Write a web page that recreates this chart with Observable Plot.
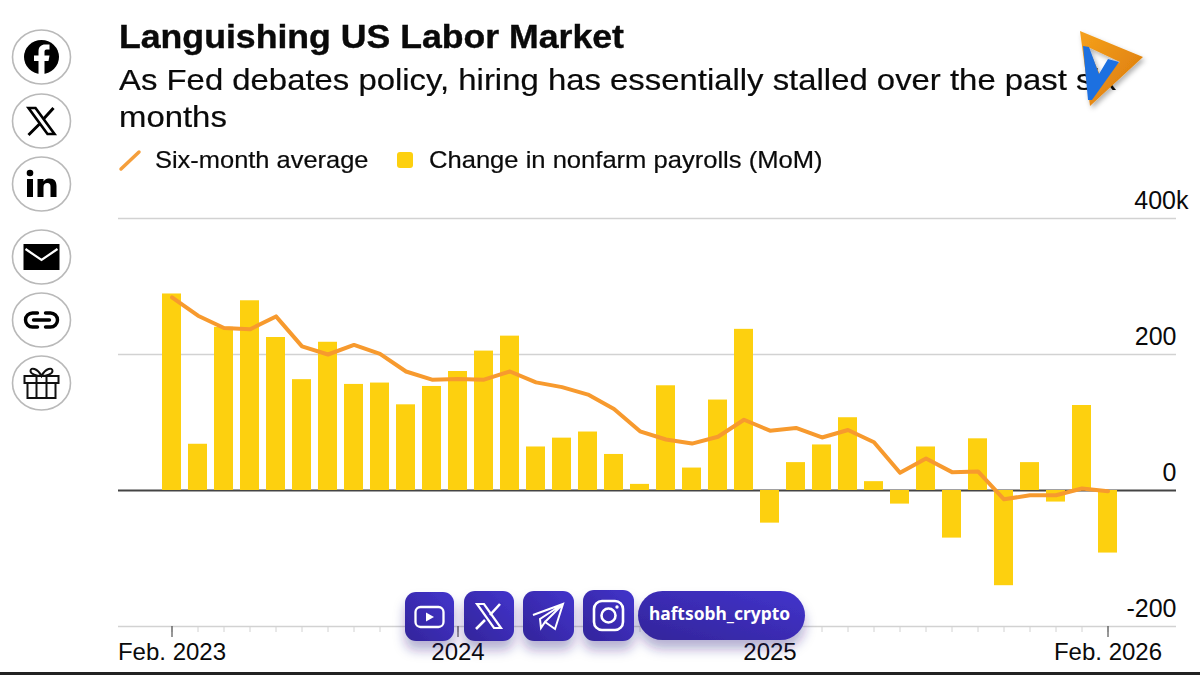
<!DOCTYPE html>
<html><head><meta charset="utf-8">
<script src="https://cdn.jsdelivr.net/npm/d3@7"></script>
<script src="https://cdn.jsdelivr.net/npm/@observablehq/plot@0.6"></script>
<style>
html,body{margin:0;padding:0;background:#fff;width:1200px;height:675px;overflow:hidden;font-family:"Liberation Sans",sans-serif;color:#0a0a0a}
.t{position:absolute;white-space:nowrap;transform-origin:0 0}
#chart{position:absolute;left:0;top:190px}
#overlay{position:absolute;left:0;top:0;pointer-events:none}
</style></head><body>
<div class="t" id="title" style="left:119px;top:18px;font-size:33px;font-weight:700;transform:scaleX(1.08);-webkit-text-stroke:.4px #0a0a0a">Languishing US Labor Market</div>
<div class="t" id="sub" style="left:119px;top:61px;font-size:30px;line-height:37px;transform:scaleX(1.096);-webkit-text-stroke:.2px #0a0a0a">As Fed debates policy, hiring has essentially stalled over the past six<br>months</div>
<div class="t" style="left:155px;top:146px;font-size:24px;transform:scaleX(1.06);-webkit-text-stroke:.2px #0a0a0a">Six-month average</div>
<div class="t" style="left:429px;top:146px;font-size:24px;transform:scaleX(1.065);-webkit-text-stroke:.2px #0a0a0a">Change in nonfarm payrolls (MoM)</div>
<div id="chart"></div>
<svg id="overlay" width="1200" height="675" viewBox="0 0 1200 675">
<defs>
<linearGradient id="pg" x1="0" y1="1" x2="1" y2="0"><stop offset="0" stop-color="#33259a"/><stop offset="1" stop-color="#4233cc"/></linearGradient>
<linearGradient id="og" x1="0" y1="0" x2="1" y2="1"><stop offset="0" stop-color="#f6a11c"/><stop offset="1" stop-color="#d9780b"/></linearGradient>
<filter id="sh" x="-40%" y="-40%" width="180%" height="200%"><feDropShadow dx="0" dy="9" stdDeviation="6" flood-color="#2a2080" flood-opacity=".35"/></filter>
<filter id="ls" x="-20%" y="-20%" width="150%" height="150%"><feDropShadow dx="2" dy="3" stdDeviation="2.5" flood-color="#000" flood-opacity=".3"/></filter>
</defs>
<!-- legend swatches -->
<line x1="121" y1="169" x2="139" y2="152" stroke="#f59f3c" stroke-width="3.5" stroke-linecap="round"/>
<rect x="397" y="152" width="16" height="16" rx="3" fill="#fdd00f"/>
<!-- share buttons -->
<g fill="#fff" stroke="#b9b9b9" stroke-width="1.6">
<ellipse cx="41.5" cy="57" rx="29" ry="27"/><ellipse cx="41.5" cy="121" rx="29" ry="27"/><ellipse cx="41.5" cy="184" rx="29" ry="27"/>
<ellipse cx="41.5" cy="257" rx="29" ry="27"/><ellipse cx="41.5" cy="320" rx="29" ry="27"/><ellipse cx="41.5" cy="383" rx="29" ry="27"/>
</g>
<g transform="translate(41.5,57)"><ellipse rx="17.5" ry="17" fill="#000"/><path d="M-3 17V4H-7.5V-1.5H-3V-5.5C-3 -10.5 0 -12.5 3.5 -12.5H8V-7.5H5C3.5 -7.5 3 -6.5 3 -5V-1.5H8L7 4H3V17Z" fill="#fff"/></g>
<g transform="translate(41.5,121)" stroke="#000" fill="none"><path d="M-13 -13H-6L13 13H6Z" stroke-width="2.6"/><path d="M12 -13L2 -2M-2 3L-13 14" stroke-width="3"/></g>
<g transform="translate(41.5,184)" fill="#000"><circle cx="-11.5" cy="-11" r="3.3"/><rect x="-14.5" y="-5" width="6" height="18"/><path d="M-4 -5H2V-2.5C3.5 -5 6 -5.5 8 -5.5C13 -5.5 15 -2.5 15 2V13H9V3C9 0 8 -1 6 -1C3.5 -1 2 0.5 2 3V13H-4Z"/></g>
<g transform="translate(41.5,257)"><rect x="-18" y="-13" width="36" height="26" fill="#000"/><path d="M-16 -8L0 3L16 -8" fill="none" stroke="#fff" stroke-width="2.2"/></g>
<g transform="translate(41.5,320)" fill="none" stroke="#000" stroke-width="3.4" stroke-linecap="round"><path d="M-4 -7H-9A7 7 0 0 0 -9 7H-4"/><path d="M4 -7H9A7 7 0 0 1 9 7H4"/><path d="M-8 0H8"/></g>
<g transform="translate(41.5,383)" fill="none" stroke="#111" stroke-width="2"><rect x="-17" y="-7" width="34" height="7"/><rect x="-14" y="0" width="28" height="15"/><path d="M-5 -7V15M5 -7V15"/><path d="M0 -7C-4 -15 -11 -16 -11 -12C-11 -9 -5 -7 0 -7C5 -7 11 -9 11 -12C11 -16 4 -15 0 -7Z"/></g>
<!-- logo -->
<g filter="url(#ls)"><path fill-rule="evenodd" fill="url(#og)" d="M1080 31L1143 57L1090 106ZM1088 47L1120 62L1100 75Z"/>
<path fill="#1f6fe0" d="M1083 46L1089 47L1099 74L1108 59L1119 62L1092 100L1088 100Z"/></g>
<!-- social watermark -->
<g filter="url(#sh)">
<rect x="405" y="592" width="49" height="49" rx="11" fill="url(#pg)"/>
<rect x="464" y="591" width="50" height="50" rx="11" fill="url(#pg)"/>
<rect x="523" y="591" width="51" height="50" rx="11" fill="url(#pg)"/>
<rect x="583" y="590" width="51" height="51" rx="11" fill="url(#pg)"/>
<rect x="638" y="591" width="167" height="49" rx="24.5" fill="url(#pg)"/>
</g>
<g fill="none" stroke="#fff" stroke-width="2.3">
<rect x="415.5" y="607" width="28" height="20" rx="5"/><path d="M426 612.5L434 617L426 621.5Z" fill="#fff" stroke="none"/>
<g stroke-width="2.2"><path d="M477 604H484L501 628H494Z"/><path d="M500 604L490 615M485 620L476 629" stroke-width="2.6"/></g>
<path d="M533 615L563 604L555 629L545 622L541 628L540 619L563 604L545 622" stroke-width="2"/>
<rect x="594" y="601" width="29" height="29" rx="8" stroke-width="2.6"/><circle cx="608.5" cy="615.5" r="7" stroke-width="2.6"/><circle cx="617" cy="607" r="1.7" fill="#fff" stroke="none"/>
</g>
<text x="719.5" y="620" text-anchor="middle" fill="#fff" font-family="Noto Sans" font-weight="700" font-size="17.4">haftsobh_crypto</text>
<rect x="0" y="672" width="1200" height="3" fill="#222"/>
</svg>
<script>
// Month of each bar, Feb. 2023 to Feb. 2026
const months = ["2023-02","2023-03","2023-04","2023-05","2023-06","2023-07","2023-08","2023-09","2023-10","2023-11","2023-12","2024-01","2024-02","2024-03","2024-04","2024-05","2024-06","2024-07","2024-08","2024-09","2024-10","2024-11","2024-12","2025-01","2025-02","2025-03","2025-04","2025-05","2025-06","2025-07","2025-08","2025-09","2025-10","2025-11","2025-12","2026-01","2026-02"];
// Change in nonfarm payrolls, MoM, thousands
const payrolls = [289,68,240,279,225,163,218,156,158,126,153,175,205,227,64,77,86,53,9,154,33,133,237,-48,41,67,107,13,-20,64,-70,76,-140,41,-17,125,-92];
// Six-month average, thousands
const average = [284,257,239,237,256,212,200,214,201,175,163,164,163,175,159,152,141,120,87,75,69,79,104,88,92,78,89,71,26,47,27,28,-13,-7,-7,3,-1];
const yTicks = [200,0,-200];
const yTickTop = 400;
const xLabelled = ["2023-02","2024-01","2025-01","2026-02"];
const xLabels = ["Feb. 2023","2024","2025","Feb. 2026"];

const rows = months.map((m,i)=>({m,p:payrolls[i],a:average[i]}));
const font = "Liberation Sans";
const chart = Plot.plot({
  width:1200,height:485,marginLeft:118,marginRight:24,marginTop:28,marginBottom:49,
  style:{fontFamily:font,background:"transparent",overflow:"visible"},
  x:{type:"band",domain:months,range:[152.9,1125.4],padding:0.27,axis:null},
  y:{domain:[-200,400],axis:null},
  marks:[
    Plot.ruleY([200,400],{stroke:"#d2d2d2",strokeWidth:1.6}),
    Plot.ruleY([-200],{stroke:"#d2d2d2",strokeWidth:1.6}),
    Plot.ruleY([0],{stroke:"#444",strokeWidth:2}),
    Plot.barY(rows,{x:"m",y:"p",fill:"#fdd00f"}),
    Plot.line(rows,{x:"m",y:"a",stroke:"#f79a2e",strokeWidth:4,strokeLinejoin:"round"}),
    Plot.axisX({anchor:"bottom",ticks:months,tickSize:6,stroke:"#d2d2d2",tickFormat:()=>"" ,label:null}),
    Plot.axisX({anchor:"bottom",ticks:xLabelled,tickSize:11,stroke:"#333",tickPadding:5,fontSize:24,fill:"#0a0a0a",
      tickFormat:d=>xLabels[xLabelled.indexOf(d)],label:null}),
    Plot.text(yTicks,{frameAnchor:"right",y:d=>d,text:d=>String(d),textAnchor:"end",dy:-18,fontSize:25,fill:"#0a0a0a"}),
    Plot.text([yTickTop],{frameAnchor:"right",y:d=>d,text:d=>d+"k",textAnchor:"end",dy:-18,dx:12,fontSize:25,fill:"#0a0a0a"})
  ]
});
document.getElementById("chart").appendChild(chart);
</script>
</body></html>
